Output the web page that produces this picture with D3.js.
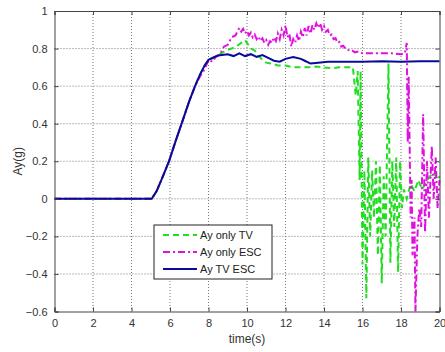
<!DOCTYPE html>
<html>
<head>
<meta charset="utf-8">
<script src="https://cdn.jsdelivr.net/npm/d3@7"></script>
<style>
  body { margin: 0; background: #fff; }
  svg { display: block; font-family: "Liberation Sans", Arial, sans-serif; }
</style>
</head>
<body>
<svg id="chart" width="445" height="352"></svg>
<script>
// ---------------- Data ----------------
const seriesNames = ["Ay only TV", "Ay only ESC", "Ay TV ESC"];

const xTicks = [0, 2, 4, 6, 8, 10, 12, 14, 16, 18, 20];
const yTicks = [-0.6, -0.4, -0.2, 0, 0.2, 0.4, 0.6, 0.8, 1];

// Ay TV ESC (blue)
const tvEscTime = [0, 5.05, 5.3, 5.55, 5.95, 6.3, 6.67, 7.0, 7.3, 7.55, 7.8, 8.0, 8.3, 8.6, 9.0, 9.3, 9.6, 9.9, 10.2, 10.5, 10.8,
  11.1, 11.4, 11.7, 12.0, 12.4, 12.8, 13.0, 13.3, 13.7, 14.2, 15, 16, 17, 18, 19, 20];
const tvEscAy = [0, 0, 0.04, 0.1, 0.2, 0.31, 0.42, 0.52, 0.6, 0.66, 0.71, 0.74, 0.755, 0.765, 0.77, 0.76, 0.775, 0.76, 0.77, 0.755, 0.765,
  0.75, 0.735, 0.73, 0.745, 0.755, 0.745, 0.735, 0.72, 0.725, 0.73, 0.73, 0.73, 0.732, 0.73, 0.732, 0.732];

// Ay only TV (green)
const tvTime = [0, 5.05, 5.3, 5.55, 5.95, 6.3, 6.67, 7.0, 7.3, 7.55, 7.8, 8.0, 8.3, 8.6, 8.9, 9.2, 9.5, 9.7, 9.9, 10.0, 10.2, 10.4,
  10.6, 10.8, 11.0, 11.3, 11.6, 12.0, 12.4, 12.8, 13.2, 13.6, 14.0, 14.4, 14.8, 15.2, 15.5,
  15.65, 15.75, 15.85, 15.9, 16.0, 16.1, 16.2, 16.3, 16.4, 16.5, 16.6, 16.7, 16.8, 16.9, 17.0, 17.1, 17.2, 17.35,
  17.45, 17.55, 17.65, 17.75, 17.85, 17.95, 18.05, 18.15, 18.3, 18.5, 18.7, 18.9, 19.1, 19.3, 19.5, 19.7, 19.9, 20];
const tvAy = [0, 0, 0.04, 0.1, 0.2, 0.31, 0.42, 0.52, 0.6, 0.66, 0.71, 0.74, 0.75, 0.77, 0.79, 0.8, 0.815, 0.83, 0.845, 0.83, 0.8, 0.79,
  0.76, 0.74, 0.725, 0.72, 0.71, 0.71, 0.7, 0.7, 0.7, 0.705, 0.7, 0.695, 0.7, 0.7, 0.7,
  0.55, 0.68, 0.1, 0.68, -0.35, 0.15, -0.53, 0.22, -0.2, 0.15, -0.1, 0.2, -0.3, 0.18, -0.45, 0.12, -0.2, 0.72,
  -0.34, 0.2, -0.15, 0.22, -0.39, 0.2, -0.05, 0.05, 0.0, 0.08, 0.04, 0.1, 0.05, 0.09, 0.12, 0.14, 0.1, 0.12];

// Ay only ESC (magenta)
const escTime = [0, 5.05, 5.3, 5.55, 5.95, 6.3, 6.67, 7.0, 7.3, 7.55, 7.8, 8.0, 8.2, 8.4, 8.6, 8.8, 9.0, 9.2, 9.4, 9.6, 9.7, 9.8, 9.9,
  10.0, 10.1, 10.2, 10.3, 10.4, 10.5, 10.6, 10.7, 10.8, 10.9, 11.0, 11.1, 11.2, 11.3, 11.4, 11.5, 11.6, 11.7, 11.8, 11.9,
  12.0, 12.1, 12.2, 12.3, 12.4, 12.5, 12.6, 12.7, 12.8, 12.9, 13.0, 13.1, 13.2, 13.3, 13.4, 13.5, 13.6, 13.7, 13.8, 13.9,
  14.0, 14.1, 14.2, 14.3, 14.4, 14.5, 14.6, 14.7, 14.8, 14.9, 15.0, 15.2, 15.4, 15.6, 15.8, 16.0, 16.5, 17, 17.5, 18.0, 18.2,
  18.3, 18.35, 18.4, 18.5, 18.55, 18.6, 18.7, 18.75, 18.85, 18.95, 19.05, 19.15, 19.25, 19.35, 19.45, 19.6, 19.7, 19.8, 19.9, 20];
const escAy = [0, 0, 0.04, 0.1, 0.2, 0.31, 0.42, 0.52, 0.6, 0.65, 0.69, 0.74, 0.73, 0.76, 0.77, 0.81, 0.82, 0.86, 0.87, 0.91, 0.89, 0.905, 0.88,
  0.895, 0.87, 0.885, 0.86, 0.875, 0.85, 0.865, 0.84, 0.855, 0.83, 0.845, 0.82, 0.84, 0.83, 0.86, 0.84, 0.88, 0.85, 0.9, 0.87,
  0.925, 0.86, 0.88, 0.81, 0.85, 0.83, 0.87, 0.84, 0.89, 0.86, 0.91, 0.87, 0.92, 0.88, 0.925, 0.9, 0.935, 0.91, 0.935, 0.9,
  0.92, 0.89, 0.9, 0.87, 0.875, 0.85, 0.855, 0.83, 0.835, 0.81, 0.815, 0.79, 0.795, 0.78, 0.785, 0.775, 0.775, 0.775, 0.775, 0.77, 0.775,
  0.83, 0.3, 0.65, -0.1, 0.1, -0.3, -0.1, -0.6, -0.2, -0.05, -0.15, 0.45, -0.18, 0.2, -0.1, 0.28, 0.0, 0.22, -0.05, 0.1];

const series = [
  { name: seriesNames[0], t: tvTime, v: tvAy, color: "#22dd22", dash: "6,4" },
  { name: seriesNames[1], t: escTime, v: escAy, color: "#e011e0", dash: "7,3,2,3" },
  { name: seriesNames[2], t: tvEscTime, v: tvEscAy, color: "#0a0a9a", dash: null }
];

// ---------------- Layout ----------------
const svg = d3.select("#chart");
const margin = { top: 11, right: 5.5, bottom: 40.5, left: 54.5 };
const width = 445 - margin.left - margin.right;
const height = 352 - margin.top - margin.bottom;

const g = svg.append("g").attr("transform", `translate(${margin.left},${margin.top})`);

const x = d3.scaleLinear().domain([0, 20]).range([0, width]);
const y = d3.scaleLinear().domain([-0.6, 1]).range([height, 0]);

// grid
g.append("g").selectAll("line").data(xTicks.slice(1, -1)).join("line")
  .attr("x1", d => x(d)).attr("x2", d => x(d)).attr("y1", 0).attr("y2", height)
  .attr("stroke", "#777").attr("stroke-dasharray", "1,2");
g.append("g").selectAll("line").data(yTicks.slice(1, -1)).join("line")
  .attr("y1", d => y(d)).attr("y2", d => y(d)).attr("x1", 0).attr("x2", width)
  .attr("stroke", "#777").attr("stroke-dasharray", "1,2");

// lines
const line = d3.line().x(d => x(d[0])).y(d => y(d[1]));
series.forEach(s => {
  g.append("path")
    .datum(s.t.map((t, i) => [t, s.v[i]]))
    .attr("fill", "none")
    .attr("stroke", s.color)
    .attr("stroke-width", 2)
    .attr("stroke-dasharray", s.dash)
    .attr("d", line);
});

// axes (MATLAB style, ticks inside on all sides)
const axisColor = "#444";
const fmt = d => d3.format("")(+d.toFixed(1));
const xAxis = g.append("g").attr("transform", `translate(0,${height})`)
  .call(d3.axisBottom(x).tickValues(xTicks).tickSize(-4).tickPadding(8).tickFormat(fmt));
const yAxis = g.append("g")
  .call(d3.axisLeft(y).tickValues(yTicks).tickSize(-4).tickPadding(7).tickFormat(fmt));
const xTop = g.append("g").call(d3.axisTop(x).tickValues(xTicks).tickSize(-4).tickFormat(""));
const yRight = g.append("g").attr("transform", `translate(${width},0)`)
  .call(d3.axisRight(y).tickValues(yTicks).tickSize(-4).tickFormat(""));

[xAxis, yAxis, xTop, yRight].forEach(a => {
  a.selectAll("path,line").attr("stroke", axisColor);
  a.selectAll("text").attr("fill", "#333").style("font-size", "11px")
    .style("font-family", "Liberation Sans, Arial, sans-serif");
});

// axis titles
svg.append("text")
  .attr("x", margin.left + x(10)).attr("y", 343)
  .attr("text-anchor", "middle").attr("fill", "#333").style("font-size", "12px")
  .text("time(s)");
svg.append("text")
  .attr("transform", `translate(22,${margin.top + y(0.2)}) rotate(-90)`)
  .attr("text-anchor", "middle").attr("fill", "#333").style("font-size", "12px")
  .text("Ay(g)");

// legend
const lg = svg.append("g").attr("transform", "translate(154,225)");
lg.append("rect").attr("width", 118).attr("height", 54)
  .attr("fill", "#fff").attr("stroke", "#222");
series.forEach((s, i) => {
  const cy = 10 + i * 17;
  lg.append("line").attr("x1", 9).attr("x2", 43).attr("y1", cy).attr("y2", cy)
    .attr("stroke", s.color).attr("stroke-width", 2).attr("stroke-dasharray", s.dash);
  lg.append("text").attr("x", 46).attr("y", cy + 4)
    .attr("fill", "#222").style("font-size", "11px").text(s.name);
});
</script>
</body>
</html>
